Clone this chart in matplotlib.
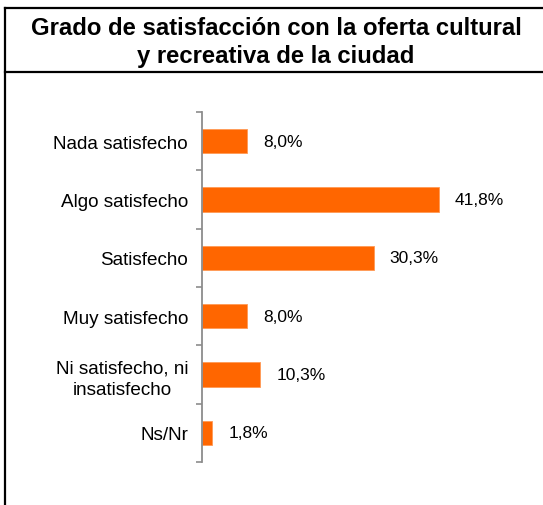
import matplotlib
matplotlib.use("Agg")
import matplotlib.pyplot as plt
from matplotlib.lines import Line2D

plt.rcParams['font.family'] = ['Liberation Sans', 'DejaVu Sans']

# datos
categorias = ["Nada satisfecho", "Algo satisfecho", "Satisfecho", "Muy satisfecho",
              "Ni satisfecho, ni\ninsatisfecho", "Ns/Nr"]
valores = [8.0, 41.8, 30.3, 8.0, 10.3, 1.8]
titulo = "Grado de satisfacción con la oferta cultural\ny recreativa de la ciudad"

W, H = 543, 506
fig = plt.figure(figsize=(W / 100, H / 100), dpi=100)

# marco: linea superior, izquierda y separador del titulo
for xs, ys in [([5 / W, 1], [1 - 9 / H, 1 - 9 / H]),
               ([5 / W, 5 / W], [0, 1 - 9 / H]),
               ([5 / W, 1], [1 - 73 / H, 1 - 73 / H])]:
    fig.add_artist(Line2D(xs, ys, color="black", lw=1.6, transform=fig.transFigure))

fig.text(276 / W, 1 - 42.5 / H, titulo, ha="center", va="center", fontsize=17.2,
         fontweight="bold", linespacing=1.32)

ax = fig.add_axes([202 / W, 1 - 463 / H, 323 / W, 350 / H])
y = list(range(len(categorias)))
ax.barh(y, valores, height=0.42, color="#FF6600", edgecolor="#FF9955", linewidth=0.6)
ax.set_ylim(len(categorias) - 0.5, -0.5)
ax.set_xlim(0, 323 / 5.67)

for yi, v in zip(y, valores):
    ax.annotate(f"{v:.1f}%".replace(".", ","), (v, yi), xytext=(11.5, 0),
                textcoords="offset points", va="center", ha="left", fontsize=12.5)

ax.set_yticks(y)
ax.set_yticklabels(categorias, fontsize=13.6, multialignment="center", linespacing=1.35)
ax.set_yticks([i - 0.5 for i in range(len(categorias) + 1)], minor=True)
ax.tick_params(axis="y", which="major", length=0, pad=10)
ax.tick_params(axis="y", which="minor", length=4, width=1.2, color="#8c8c8c")
ax.set_xticks([])
for s in ["top", "right", "bottom"]:
    ax.spines[s].set_visible(False)
ax.spines["left"].set_color("#8c8c8c")
ax.spines["left"].set_linewidth(1.3)

fig.savefig("out.png", dpi=100)
